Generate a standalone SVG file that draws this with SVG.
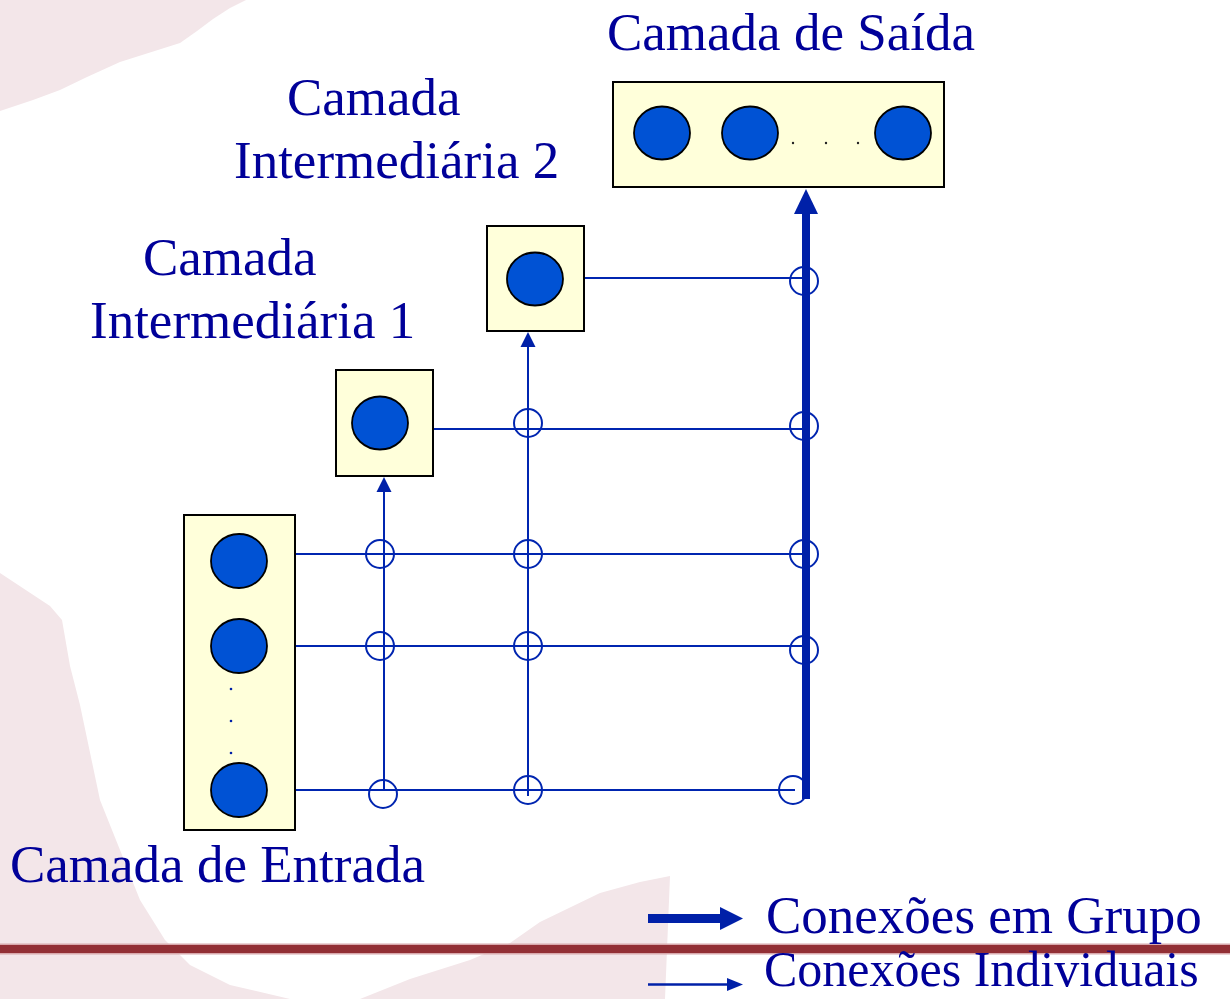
<svg xmlns="http://www.w3.org/2000/svg" width="1230" height="999" viewBox="0 0 1230 999">
<style>
.bg{fill:#f3e6e9}
.box{fill:#ffffda;stroke:#000;stroke-width:2}
.neuron{fill:#0052d4;stroke:#000;stroke-width:1.8}
.lbl{font-family:"Liberation Serif","Times New Roman",serif;font-size:53px;fill:#000099}
.wire{stroke:#0025b0;stroke-width:2;fill:none}
.junc{stroke:#0025b0;stroke-width:2;fill:none}
.thick{stroke:#0020a8;stroke-width:8;fill:none}
.head{fill:#0020a8}
</style>
<rect width="1230" height="999" fill="#ffffff"/>
<g id="background">
<path class="bg" d="M0,0 L246,0 L230,8 L213,19 L197,31 L180,43 L120,62 L87,77 L60,90 L33,100 L0,111 Z"/>
<path class="bg" d="M0,573 L50,606 L62,620 L70,666 L80,705 L100,800 L120,850 L140,900 L165,940 L190,965 L230,985 L290,999 L0,999 Z"/>
<path class="bg" d="M360,999 L410,979 L470,960 L510,943 L540,922 L600,893 L640,882 L670,876 L665,999 Z"/>
<rect x="0" y="943.5" width="1230" height="1.5" fill="#d8a8ac"/>
<rect x="0" y="945" width="1230" height="8" fill="#922f35"/>
<rect x="0" y="953" width="1230" height="1.5" fill="#d8a8ac"/>
</g>
<g id="connectors">
<line class="wire" x1="295" y1="554" x2="806" y2="554"/>
<line class="wire" x1="295" y1="646" x2="806" y2="646"/>
<line class="wire" x1="295" y1="790" x2="795" y2="790"/>
<line class="wire" x1="430" y1="429" x2="806" y2="429"/>
<line class="wire" x1="584" y1="278" x2="806" y2="278"/>
<line class="wire" x1="384" y1="790" x2="384" y2="490"/>
<polygon class="head" points="384,477 376.5,492 391.5,492"/>
<line class="wire" x1="528" y1="796" x2="528" y2="345"/>
<polygon class="head" points="528,332 520.5,347 535.5,347"/>
<circle class="junc" cx="380" cy="554" r="14"/>
<circle class="junc" cx="380" cy="646" r="14"/>
<circle class="junc" cx="383" cy="794" r="14"/>
<circle class="junc" cx="528" cy="423" r="14"/>
<circle class="junc" cx="528" cy="554" r="14"/>
<circle class="junc" cx="528" cy="646" r="14"/>
<circle class="junc" cx="528" cy="790" r="14"/>
<circle class="junc" cx="804" cy="281" r="14"/>
<circle class="junc" cx="804" cy="426" r="14"/>
<circle class="junc" cx="804" cy="554" r="14"/>
<circle class="junc" cx="804" cy="650" r="14"/>
<circle class="junc" cx="793" cy="790" r="14"/>
<line class="thick" x1="806" y1="799" x2="806" y2="210"/>
<polygon class="head" points="806,189 794,214 818,214"/>
</g>
<g id="input-layer">
<rect class="box" x="184" y="515" width="111" height="315"/>
<ellipse class="neuron" cx="239" cy="561" rx="28" ry="27"/>
<ellipse class="neuron" cx="239" cy="646" rx="28" ry="27"/>
<ellipse class="neuron" cx="239" cy="790" rx="28" ry="27"/>
<circle cx="231" cy="689" r="1.3" fill="#0020a8"/>
<circle cx="231" cy="721" r="1.3" fill="#0020a8"/>
<circle cx="231" cy="753" r="1.3" fill="#0020a8"/>
</g>
<g id="hidden-layer-1">
<rect class="box" x="336" y="370" width="97" height="106"/>
<ellipse class="neuron" cx="380" cy="423" rx="28" ry="26.5"/>
</g>
<g id="hidden-layer-2">
<rect class="box" x="487" y="226" width="97" height="105"/>
<ellipse class="neuron" cx="535" cy="279" rx="28" ry="26.5"/>
</g>
<g id="output-layer">
<rect class="box" x="613" y="82" width="331" height="105"/>
<ellipse class="neuron" cx="662" cy="133" rx="28" ry="26.5"/>
<ellipse class="neuron" cx="750" cy="133" rx="28" ry="26.5"/>
<ellipse class="neuron" cx="903" cy="133" rx="28" ry="26.5"/>
<circle cx="793" cy="143" r="1.2" fill="#222"/>
<circle cx="826" cy="143" r="1.2" fill="#222"/>
<circle cx="858" cy="143" r="1.2" fill="#222"/>
</g>
<g id="labels">
<text class="lbl" x="607" y="50">Camada de Saída</text>
<text class="lbl" x="287" y="115">Camada</text>
<text class="lbl" x="234" y="178">Intermediária 2</text>
<text class="lbl" x="143" y="275">Camada</text>
<text class="lbl" x="90" y="338">Intermediária 1</text>
<text class="lbl" x="10" y="882">Camada de Entrada</text>
</g>
<g id="legend">
<rect x="648" y="914" width="74" height="9" fill="#0020a8"/>
<polygon class="head" points="743,918.5 720,907 720,930"/>
<text class="lbl" x="766" y="933">Conexões em Grupo</text>
<line x1="648" y1="984.5" x2="730" y2="984.5" stroke="#0020a8" stroke-width="2.5"/>
<polygon class="head" points="743,984.5 727,978 727,991"/>
<text class="lbl" x="764" y="986" style="font-size:50px">Conexões Individuais</text>
</g>
</svg>
